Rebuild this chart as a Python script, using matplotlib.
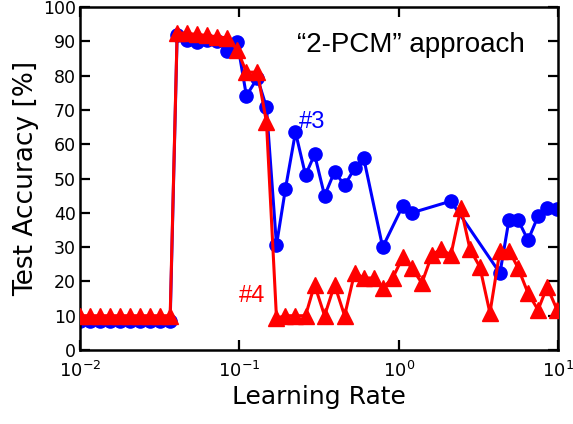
"""Test accuracy vs learning rate, 2-PCM approach."""

import matplotlib
matplotlib.use("Agg")
import matplotlib.pyplot as plt
import numpy as np

# learning rates for curve #3 (blue) and its test accuracy [%]
lr_3 = [0.0100, 0.01156, 0.01336, 0.01544, 0.01785, 0.02063, 0.02384, 0.02756,
        0.03185, 0.0368, 0.0407, 0.0471, 0.0544, 0.0629, 0.0727, 0.0841,
        0.0971, 0.1107, 0.1297, 0.1479, 0.1710, 0.1946, 0.2250, 0.2601,
        0.2964, 0.3426, 0.3957, 0.4575, 0.5287, 0.6026, 0.7928, 1.059,
        1.208, 2.124, 4.317, 4.920, 5.600, 6.473, 7.483, 8.530, 9.86]
acc_3 = [8.5, 8.5, 8.5, 8.5, 8.5, 8.5, 8.5, 8.5,
         8.5, 8.5, 91.8, 90.5, 89.8, 90.5, 90.2, 87.2,
         89.8, 74.1, 79.3, 70.8, 30.6, 47.0, 63.5, 51.0,
         57.0, 45.0, 52.0, 48.0, 53.0, 56.0, 30.0, 42.0,
         40.0, 43.4, 22.4, 38.0, 38.0, 32.0, 39.0, 41.3, 41.0]

# learning rates for curve #4 (red) and its test accuracy [%]
lr_4 = [0.0100, 0.01156, 0.01336, 0.01544, 0.01785, 0.02063, 0.02384, 0.02756,
        0.03185, 0.0368, 0.0407, 0.0471, 0.0544, 0.0629, 0.0727, 0.0841,
        0.0971, 0.1107, 0.1297, 0.1479, 0.1710, 0.1946, 0.2250, 0.2601,
        0.2964, 0.3426, 0.3957, 0.4575, 0.5287, 0.6026, 0.6966, 0.7928,
        0.9165, 1.059, 1.208, 1.396, 1.614, 1.837, 2.124, 2.455,
        2.799, 3.230, 3.734, 4.317, 4.920, 5.600, 6.473, 7.483, 8.530, 9.86]
acc_4 = [10.0, 10.0, 10.0, 10.0, 10.0, 10.0, 10.0, 10.0,
         10.0, 10.0, 92.5, 92.3, 92.0, 91.7, 91.3, 91.0,
         87.5, 81.0, 81.0, 66.5, 9.3, 10.0, 10.0, 10.0,
         19.0, 10.0, 19.0, 10.0, 22.5, 21.0, 21.0, 18.0,
         21.0, 27.0, 24.0, 19.5, 27.7, 29.4, 27.7, 41.4,
         29.4, 24.2, 10.8, 29.0, 29.0, 24.0, 16.6, 11.7, 18.4, 11.7]

x_ticks = [1e-2, 1e-1, 1e0, 1e1]
x_tick_labels = ["$10^{-2}$", "$10^{-1}$", "$10^{0}$", "$10^{1}$"]
y_ticks = np.arange(0, 101, 10)

plt.rcParams["font.family"] = "DejaVu Sans"
plt.rcParams["mathtext.fontset"] = "dejavusans"

figure = plt.figure(figsize=(5.73, 4.24), dpi=100)
axis = figure.add_axes([0.1396, 0.1745, 0.8344, 0.809])

axis.plot(lr_3, acc_3, color="#0000ff", linewidth=2.2, marker="o",
          markersize=9.5, zorder=2)
axis.plot(lr_4, acc_4, color="#ff0000", linewidth=2.2, marker="^",
          markersize=11, zorder=3)

axis.set_xscale("log")
axis.set_xlim(1e-2, 1e1)
axis.set_ylim(0, 100)
axis.set_xticks(x_ticks)
axis.set_xticklabels(x_tick_labels)
axis.set_yticks(y_ticks)
axis.xaxis.set_minor_locator(matplotlib.ticker.NullLocator())
axis.tick_params(which="major", direction="in", length=7, width=1.6,
                 top=True, right=True)
axis.tick_params(axis="x", labelsize=13, pad=8)
axis.tick_params(axis="y", labelsize=12.5, pad=3)

for spine in axis.spines.values():
    spine.set_linewidth(1.8)

axis.set_xlabel("Learning Rate", fontsize=18, labelpad=3)
axis.set_ylabel("Test Accuracy [%]", fontsize=19, labelpad=3)

axis.text(0.454, 0.869, "\u201c2-PCM\u201d approach", transform=axis.transAxes,
          fontsize=20, family="Liberation Sans", va="baseline", ha="left")
axis.text(0.235, 64.7, "#3", color="#0000ff", fontsize=17,
          family="Liberation Sans", va="baseline", ha="left")
axis.text(0.1, 14.0, "#4", color="#ff0000", fontsize=17,
          family="Liberation Sans", va="baseline", ha="left")

figure.savefig("out.png", dpi=100)
